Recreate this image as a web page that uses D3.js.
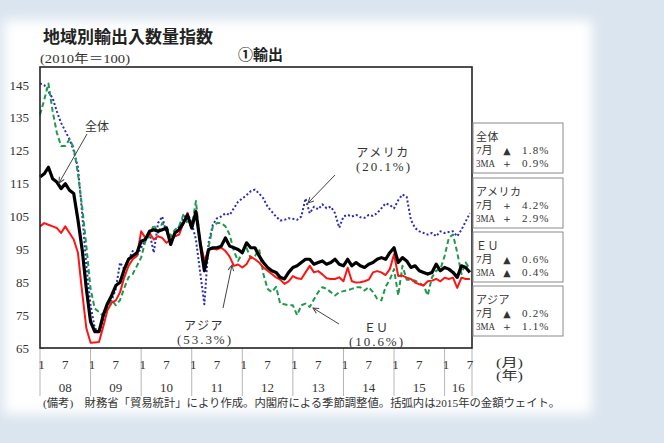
<!DOCTYPE html>
<html>
<head>
<meta charset="utf-8">
<script src="https://cdn.jsdelivr.net/npm/d3@7"></script>
<style>
  body { margin: 0; background: #dbe5ef; }
  svg { display: block; }
  text { fill: #333; }
</style>
</head>
<body>
<div id="chart"></div>
<script>
// series values, Jan 2008 .. Jul 2016 (2010 = 100)
const total = [117, 118, 120, 116.5, 115.5, 113.5, 115, 113, 112, 104, 95, 83,
  73, 70, 70, 75, 78.5, 81, 84, 85, 89, 92, 93, 94,
  97.5, 98, 100.5, 101, 100.5, 101, 101.5, 96.5, 100, 101, 103, 105.5,
  101.5, 106.5, 97, 88.5, 95, 95.5, 95.5, 96, 98.5, 96, 95.5, 95,
  94, 97, 95.5, 95.5, 93, 91, 89.5, 88.5, 88, 86.5, 86, 88,
  89.5, 90, 91, 92, 92, 90.5, 91, 91.5, 90.5, 91, 92, 90.5,
  90, 92, 90, 91, 90, 89.5, 90.5, 91, 92, 92.5, 92, 94,
  95.5, 91, 92.5, 91.5, 89.5, 90, 88.5, 88, 87.5, 88, 90.5, 88.5,
  89.5, 89, 88, 86.5, 90, 89.5, 88];

const america = [145.5, 145, 143, 141, 137, 133.5, 131, 128.5, 125, 120, 106, 90,
  78, 71, 70, 73.5, 78.5, 79.5, 83, 91, 89, 92, 94.5, 93,
  95.5, 98, 100, 94, 103, 105, 100, 99, 99.5, 102, 104.5, 106,
  103, 98, 88, 78.3, 97, 102.5, 104.5, 105, 106, 105.5, 107.5, 109.5,
  110.5, 111.5, 112.7, 113.2, 112, 110.5, 108, 106.5, 105, 103.8, 104, 104.5,
  104.3, 104, 105, 110.5, 106, 108, 107.2, 108.7, 107.5, 108, 106, 101.6,
  105, 105.5, 105, 105.5, 104.8, 104.6, 105.5, 105.2, 106, 107.5, 109, 108.5,
  107.5, 110, 111.7, 111, 104, 101.5, 100.5, 100, 99.5, 100, 99, 100.5,
  100, 100.3, 100.5, 99, 101, 103.5, 106];

const eu = [136, 140.5, 145.5, 137, 130.5, 126.5, 126.5, 128.5, 126, 118, 108, 96,
  83, 77, 76, 74.7, 77.8, 79.6, 78, 79.6, 83.3, 86.5, 87.5, 90,
  92.5, 97.5, 99, 102.5, 100, 103, 102, 99, 101, 102, 105.5, 103,
  102, 109.7, 97, 89, 95.8, 101.9, 103, 103, 102, 99.5, 94.5, 91.5,
  94, 95.5, 92.3, 93, 95, 87.5, 83, 82, 83.6, 78.5, 78.3, 78,
  78, 75, 78, 78.5, 77.5, 79.8, 82, 83.5, 83, 82, 81, 82,
  82.3, 82.6, 83, 83.5, 83.5, 82.5, 83.5, 82, 80, 79.5, 83.6, 85.8,
  89, 81, 90, 85.8, 85.8, 85.5, 84.8, 84, 81, 86.5, 88.5, 89,
  93, 98.5, 99.5, 94, 87.5, 91, 89];

const asia = [102, 103, 102.5, 102, 101.5, 100, 102, 100, 98, 94, 82, 71,
  66.6, 66.7, 66.8, 71.5, 76.5, 78.8, 79.5, 82, 86.5, 90, 92, 93,
  100.5, 98.5, 100, 98, 99, 98.5, 97, 98, 99, 99.5, 103, 106,
  101.5, 106.5, 97.5, 91.5, 95, 95.2, 95, 95.5, 94.5, 92.8, 90, 90.4,
  89.5, 90.5, 92.8, 92, 91, 89.5, 88.5, 87.5, 86.5, 85.8, 84.5, 85.3,
  86.9, 86.2, 86, 88, 90, 88, 88.4, 87.4, 86.2, 86, 86, 86.5,
  85.3, 89.4, 85.3, 84.9, 85, 85.3, 85.8, 88, 88.4, 88, 87.2, 89,
  93.5, 86.9, 87, 86.4, 86, 84.9, 84.4, 84, 85.3, 85.5, 86, 85.3,
  86.4, 86, 86.4, 83.3, 86.4, 86, 86];

// tick labels
const yTicks = [65, 75, 85, 95, 105, 115, 125, 135, 145];
const years = ['08', '09', '10', '11', '12', '13', '14', '15', '16'];
const monthLabels = ['1', '7'];

// side boxes
const legendNames = ['全体', 'アメリカ', 'ＥＵ', 'アジア'];
const monthSign = ['▲', '+', '▲', '▲'];
const monthValue = ['1.8%', '4.2%', '0.6%', '0.2%'];
const maSign = ['+', '+', '▲', '+'];
const maValue = ['0.9%', '2.9%', '0.4%', '1.1%'];

const FRAME_WIDTH = 664;
const FRAME_HEIGHT = 443;
const MARGINS = {left: 40, right: 192, top: 67, bottom: 95};
const VIS_WIDTH = FRAME_WIDTH - MARGINS.left - MARGINS.right;
const VIS_HEIGHT = FRAME_HEIGHT - MARGINS.top - MARGINS.bottom;
const BOTTOM = MARGINS.top + VIS_HEIGHT;
const RIGHT = MARGINS.left + VIS_WIDTH;

const SERIF = '"Liberation Serif", "Noto Sans CJK JP", serif';
const GOTHIC = '"Noto Sans CJK JP", sans-serif';

const FRAME = d3.select('#chart')
  .append('svg')
    .attr('width', FRAME_WIDTH)
    .attr('height', FRAME_HEIGHT);

const defs = FRAME.append('defs');
defs.append('filter').attr('id', 'soft')
  .attr('x', '-10%').attr('y', '-10%').attr('width', '120%').attr('height', '120%')
  .append('feGaussianBlur').attr('stdDeviation', 6);
defs.append('marker').attr('id', 'arrow')
  .attr('viewBox', '0 0 10 10').attr('refX', 9).attr('refY', 5)
  .attr('markerWidth', 7).attr('markerHeight', 7)
  .attr('markerUnits', 'userSpaceOnUse')
  .attr('orient', 'auto')
  .append('path').attr('d', 'M1,1 L9,5 L1,9')
  .attr('fill', 'none').attr('stroke', '#444').attr('stroke-width', 1.4);

// background panel
FRAME.append('rect').attr('width', FRAME_WIDTH).attr('height', FRAME_HEIGHT).attr('fill', '#dbe5ef');
FRAME.append('rect')
  .attr('x', 4).attr('y', 20).attr('width', 588).attr('height', 394)
  .attr('fill', '#ffffff').attr('filter', 'url(#soft)');

// scales
const X_SCALE = d3.scaleLinear().domain([0, 102.5]).range([MARGINS.left, RIGHT]);
const Y_SCALE = d3.scaleLinear().domain([65, 150.5]).range([BOTTOM, MARGINS.top]);

// titles
FRAME.append('text').attr('x', 43).attr('y', 43)
  .attr('font-family', GOTHIC).attr('font-weight', 'bold').attr('font-size', 17)
  .style('fill', '#222').text('地域別輸出入数量指数');
FRAME.append('text').attr('x', 40).attr('y', 63)
  .attr('font-family', SERIF).attr('font-size', 12)
  .attr('textLength', 90).attr('lengthAdjust', 'spacingAndGlyphs')
  .text('(2010年＝100)');
FRAME.append('text').attr('x', 238).attr('y', 60)
  .attr('font-family', GOTHIC).attr('font-weight', 'bold').attr('font-size', 15)
  .style('fill', '#222').text('①輸出');

// y axis labels + inward ticks
FRAME.append('g').selectAll('text').data(yTicks).enter().append('text')
  .attr('x', 29).attr('y', d => Y_SCALE(d) + 4.5)
  .attr('text-anchor', 'end')
  .attr('font-family', SERIF).attr('font-size', 13)
  .text(d => d);
FRAME.append('g').selectAll('line').data(yTicks).enter().append('line')
  .attr('x1', MARGINS.left).attr('x2', MARGINS.left + 4)
  .attr('y1', d => Y_SCALE(d)).attr('y2', d => Y_SCALE(d))
  .attr('stroke', '#555').attr('stroke-width', 1);

// x axis: year separators, month and year labels
const yearStarts = years.map((d, i) => i * 12);
const seps = yearStarts.concat([102.5]);
FRAME.append('g').selectAll('line').data(seps).enter().append('line')
  .attr('x1', d => X_SCALE(d)).attr('x2', d => X_SCALE(d))
  .attr('y1', BOTTOM).attr('y2', 396)
  .attr('stroke', '#b5b5b5').attr('stroke-width', 1);

const monthTicks = [];
yearStarts.forEach(s => {
  monthTicks.push({m: s, label: monthLabels[0]});
  monthTicks.push({m: s + 6, label: monthLabels[1]});
});
FRAME.append('g').selectAll('text').data(monthTicks).enter().append('text')
  .attr('x', d => X_SCALE(d.m) + (d.label === '1' ? 1.5 : 0))
  .attr('y', 369)
  .attr('text-anchor', 'middle')
  .attr('font-family', SERIF).attr('font-size', 13)
  .text(d => d.label);

FRAME.append('g').selectAll('text').data(years).enter().append('text')
  .attr('x', (d, i) => X_SCALE((i * 12 + Math.min(i * 12 + 12, 102.5)) / 2))
  .attr('y', 392)
  .attr('text-anchor', 'middle')
  .attr('font-family', SERIF).attr('font-size', 13)
  .text(d => d);

FRAME.append('text').attr('x', 496).attr('y', 367)
  .attr('font-family', SERIF).attr('font-size', 12)
  .attr('textLength', 27).attr('lengthAdjust', 'spacingAndGlyphs').text('(月)');
FRAME.append('text').attr('x', 496).attr('y', 380)
  .attr('font-family', SERIF).attr('font-size', 12)
  .attr('textLength', 27).attr('lengthAdjust', 'spacingAndGlyphs').text('(年)');

FRAME.append('text').attr('x', 43).attr('y', 407)
  .attr('font-family', SERIF).attr('font-size', 11)
  .attr('textLength', 517).attr('lengthAdjust', 'spacingAndGlyphs')
  .text('(備考)　財務省「貿易統計」により作成。内閣府による季節調整値。括弧内は2015年の金額ウェイト。');

// plot background
FRAME.append('rect')
  .attr('x', MARGINS.left).attr('y', MARGINS.top)
  .attr('width', VIS_WIDTH).attr('height', VIS_HEIGHT)
  .attr('fill', '#ffffff');

// lines
const line = d3.line()
  .x((d, i) => X_SCALE(i))
  .y(d => Y_SCALE(d));

const series = [
  {data: america, color: '#2b2bb5', width: 2, dash: '2,2.2'},
  {data: eu, color: '#1f9a4c', width: 2, dash: '5,3'},
  {data: asia, color: '#ff1414', width: 2, dash: null},
  {data: total, color: '#000000', width: 3.2, dash: null}
];
FRAME.append('g').selectAll('path').data(series).enter().append('path')
  .attr('d', d => line(d.data))
  .attr('fill', 'none')
  .attr('stroke', d => d.color)
  .attr('stroke-width', d => d.width)
  .attr('stroke-dasharray', d => d.dash)
  .attr('stroke-linejoin', 'round');

// frame
FRAME.append('rect')
  .attr('x', MARGINS.left).attr('y', MARGINS.top)
  .attr('width', VIS_WIDTH).attr('height', VIS_HEIGHT)
  .attr('fill', 'none').attr('stroke', '#222').attr('stroke-width', 1.6);

// callouts
const callouts = [
  {name: '全体', share: null, tx: 97, ty: 131, from: [87, 134], to: [59, 183]},
  {name: 'アメリカ', share: '(20.1%)', tx: 383, ty: 157, from: [335, 175], to: [308, 203]},
  {name: 'ＥＵ', share: '(10.6%)', tx: 376, ty: 332, from: [339, 324], to: [313, 308]},
  {name: 'アジア', share: '(53.3%)', tx: 204, ty: 330, from: [223, 308], to: [232, 265]}
];
const cg = FRAME.append('g');
callouts.forEach(c => {
  cg.append('line')
    .attr('x1', c.from[0]).attr('y1', c.from[1])
    .attr('x2', c.to[0]).attr('y2', c.to[1])
    .attr('stroke', '#444').attr('stroke-width', 1)
    .attr('marker-end', 'url(#arrow)');
  cg.append('text').attr('x', c.tx).attr('y', c.ty)
    .attr('text-anchor', 'middle')
    .attr('font-family', GOTHIC).attr('font-size', 12)
    .attr('letter-spacing', c.name.length > 2 ? 1.5 : 0)
    .text(c.name);
  if (c.share) {
    cg.append('text').attr('x', c.tx).attr('y', c.ty + 14)
      .attr('text-anchor', 'middle')
      .attr('font-family', SERIF).attr('font-size', 13)
      .attr('textLength', 54).attr('lengthAdjust', 'spacing')
      .text(c.share);
  }
});

// side boxes
const boxTops = [123, 178, 232, 286];
const boxes = FRAME.append('g');
legendNames.forEach((name, i) => {
  const top = boxTops[i];
  boxes.append('rect')
    .attr('x', RIGHT + 1).attr('y', top)
    .attr('width', 90).attr('height', 50)
    .attr('fill', '#ffffff').attr('stroke', '#8a8a8a').attr('stroke-width', 1);
  const g = boxes.append('g').attr('font-size', 11);
  g.append('text').attr('x', RIGHT + 4).attr('y', top + 18)
    .attr('font-family', GOTHIC).attr('letter-spacing', 0.5).text(name);
  g.append('text').attr('x', RIGHT + 4).attr('y', top + 31)
    .attr('font-family', SERIF).text('7月');
  g.append('text').attr('x', RIGHT + 4).attr('y', top + 44)
    .attr('font-family', SERIF).attr('textLength', 19).attr('lengthAdjust', 'spacingAndGlyphs').text('3MA');
  g.append('text').attr('x', RIGHT + 35).attr('y', top + 30.5)
    .attr('text-anchor', 'middle').attr('font-family', '"DejaVu Sans", sans-serif')
    .attr('font-size', 9.5).text(monthSign[i]);
  g.append('text').attr('x', RIGHT + 35).attr('y', top + 43.5)
    .attr('text-anchor', 'middle').attr('font-family', '"DejaVu Sans", sans-serif')
    .attr('font-size', 9.5).text(maSign[i]);
  g.append('text').attr('x', RIGHT + 50).attr('y', top + 31)
    .attr('font-family', SERIF).attr('font-size', 11).attr('letter-spacing', 1.2).text(monthValue[i]);
  g.append('text').attr('x', RIGHT + 50).attr('y', top + 44)
    .attr('font-family', SERIF).attr('font-size', 11).attr('letter-spacing', 1.2).text(maValue[i]);
});
</script>
</body>
</html>
